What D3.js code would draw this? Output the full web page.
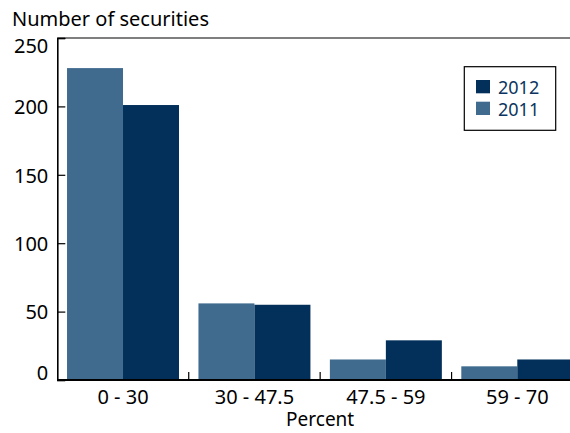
<!DOCTYPE html>
<html>
<head>
<meta charset="utf-8">
<script src="https://cdn.jsdelivr.net/npm/d3@7"></script>
<style>
  body { margin: 0; background: #fff; }
  text { font-family: "Noto Sans", "Open Sans", sans-serif; }
</style>
</head>
<body>
<div id="main-container"></div>
<script>
// DATA
const categories = ["0 - 30", "30 - 47.5", "47.5 - 59", "59 - 70"];
const seriesNames = ["2011", "2012"];
const values2011 = [228, 56, 15, 10];
const values2012 = [201, 55, 29, 15];
const yTicks = [0, 50, 100, 150, 200, 250];

// COLOUR CONSTANTS
const colorYear = d3.scaleOrdinal()
    .domain(seriesNames)
    .range(["#406b8f", "#02305a"]);

const width = 570, height = 433;
const margin = {top: 38, left: 57.3, bottom: 53, right: -13};
const fontSize = 19;

const svg = d3.select("#main-container").append("svg")
    .attr("width", width)
    .attr("height", height);

const x = d3.scaleBand()
    .domain(categories)
    .range([margin.left, width - margin.right])
    .paddingInner(0.148)
    .paddingOuter(0.074);

const xSub = d3.scaleBand()
    .domain(seriesNames)
    .range([0, x.bandwidth()]);

const y = d3.scaleLinear()
    .domain([0, 250])
    .range([height - margin.bottom, margin.top]);

// bars
const rows = categories.map((c, i) => ({cat: c, vals: [values2011[i], values2012[i]]}));

const group = svg.selectAll(".group")
    .data(rows)
    .enter().append("g")
        .attr("class", "group")
        .attr("transform", d => `translate(${x(d.cat)},0)`);

group.selectAll("rect")
    .data(d => seriesNames.map((s, j) => ({key: s, value: d.vals[j]})))
    .enter().append("rect")
        .attr("x", d => xSub(d.key))
        .attr("y", d => y(d.value))
        .attr("width", xSub.bandwidth())
        .attr("height", d => y(0) - y(d.value))
        .style("fill", d => colorYear(d.key));

// frame top line
svg.append("line")
    .attr("x1", margin.left).attr("x2", width)
    .attr("y1", y(250)).attr("y2", y(250))
    .style("stroke", "#000").style("stroke-width", 1.2);

// y axis
const yAxis = svg.append("g")
    .attr("transform", `translate(${margin.left},0)`)
    .call(d3.axisLeft(y).tickValues(yTicks).tickSize(-8).tickPadding(9));

yAxis.select(".domain").style("stroke-width", 1.6);
yAxis.selectAll(".tick line").style("stroke-width", 1.2);
yAxis.selectAll("text")
    .attr("font-size", 20)
    .attr("fill", "#000")
    .attr("dy", d => d === 0 ? "-0.02em" : d === 250 ? "0.72em" : "0.36em");

// x axis, ticks sit between groups
const boundaries = categories.slice(1).map(c => x(c) - x.step() * x.paddingInner() / 2);

svg.append("line")
    .attr("x1", margin.left).attr("x2", width)
    .attr("y1", y(0)).attr("y2", y(0))
    .style("stroke", "#000").style("stroke-width", 2);

svg.selectAll(".xtick")
    .data(boundaries)
    .enter().append("line")
        .attr("class", "xtick")
        .attr("x1", d => d).attr("x2", d => d)
        .attr("y1", y(0)).attr("y2", y(0) - 8)
        .style("stroke", "#000").style("stroke-width", 1.2);

svg.selectAll(".xlabel")
    .data(categories)
    .enter().append("text")
        .attr("class", "xlabel")
        .attr("x", d => x(d) + x.bandwidth() / 2)
        .attr("y", y(0) + 24)
        .attr("text-anchor", "middle")
        .attr("font-size", 20)
        .text(d => d);

svg.append("text")
    .attr("x", (margin.left + width - margin.right) / 2)
    .attr("y", 426)
    .attr("text-anchor", "middle")
    .attr("font-size", fontSize)
    .text("Percent");

svg.append("text")
    .attr("x", 12)
    .attr("y", 26)
    .attr("font-size", 20)
    .text("Number of securities");

// legend
const legend = svg.append("g").attr("transform", "translate(464.3,66.7)");
legend.append("rect")
    .attr("width", 91.4).attr("height", 63.6)
    .style("fill", "#fff").style("stroke", "#000").style("stroke-width", 1.2);

const legendItems = legend.selectAll(".item")
    .data(["2012", "2011"])
    .enter().append("g")
        .attr("class", "item")
        .attr("transform", (d, i) => `translate(11.7,${13.3 + i * 21.7})`);

legendItems.append("rect")
    .attr("width", 14).attr("height", 13.3)
    .style("fill", d => colorYear(d));

legendItems.append("text")
    .attr("x", 22)
    .attr("y", 13.8)
    .attr("font-size", 18)
    .attr("fill", "#0b3560")
    .text(d => d);
</script>
</body>
</html>
